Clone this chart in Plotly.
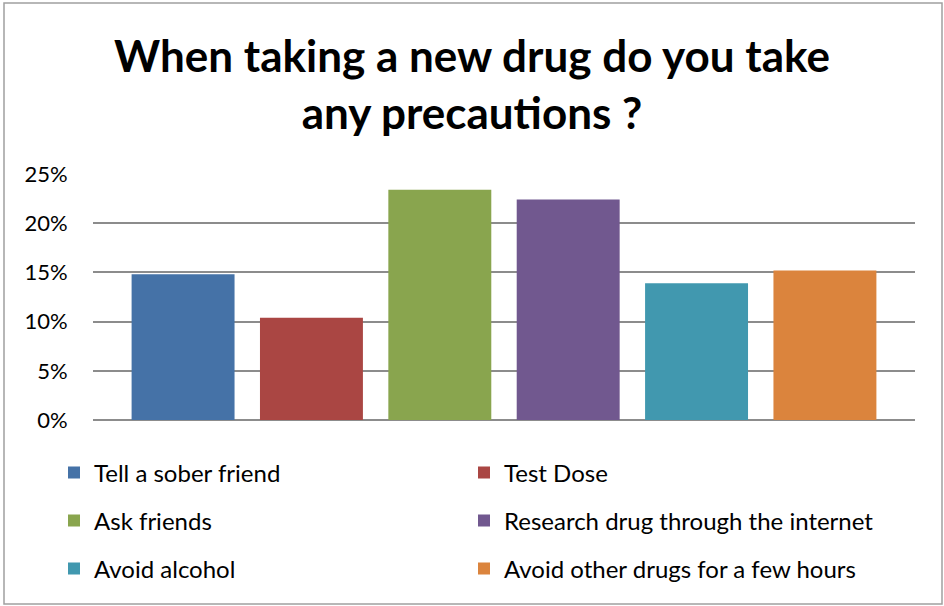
import plotly.graph_objects as go

title_lines = ["When taking a new drug do you take", "any precautions ?"]
series_names = ["Tell a sober friend", "Test Dose", "Ask friends",
                "Research drug through the internet", "Avoid alcohol",
                "Avoid other drugs for a few hours"]
series_values = [0.148, 0.104, 0.234, 0.224, 0.139, 0.152]
series_colors = ["#4572A7", "#AA4643", "#89A54E", "#71588F", "#4198AF", "#DB843D"]
y_ticks = [0, 0.05, 0.10, 0.15, 0.20, 0.25]
y_tick_labels = ["0%", "5%", "10%", "15%", "20%", "25%"]
category = ["Precautions"]

W, H = 944, 606
ML, MR, MT, MB = 93, 29, 174, 186
pw, ph = W - ML - MR, H - MT - MB

def px_x(x):
    return (x - ML) / pw

def px_y(y):
    return (H - MB - y) / ph

fig = go.Figure()
legend_ids = ["legend", "legend", "legend2", "legend2", "legend3", "legend3"]
for name, val, col, lg in zip(series_names, series_values, series_colors, legend_ids):
    fig.add_trace(go.Bar(x=category, y=[val], name=name, marker_color=col,
                         marker_line_width=0, legend=lg))

font = "Lato, 'Open Sans', sans-serif"
leg_common = dict(orientation="h", xanchor="left", yanchor="middle",
                  entrywidth=365, entrywidthmode="pixels",
                  font=dict(family=font, size=24, color="#000000"),
                  bgcolor="rgba(0,0,0,0)", itemclick=False, itemdoubleclick=False)

fig.update_layout(
    width=W, height=H,
    margin=dict(l=ML, r=MR, t=MT, b=MB),
    paper_bgcolor="white", plot_bgcolor="white",
    barmode="group", bargap=0.063, bargroupgap=0.198,
    title=dict(text="<b>" + "<br>".join(title_lines) + "</b>",
               x=0.5, xanchor="center", y=1 - 72 / H, yanchor="middle",
               font=dict(family=font, size=44, color="#000000")),
    xaxis=dict(showticklabels=False, showgrid=False, zeroline=False, showline=False,
               ticks=""),
    yaxis=dict(range=[0, 0.25], tickvals=y_ticks, ticktext=y_tick_labels,
               showgrid=True, gridcolor="#8c8c8c", gridwidth=1.5,
               zeroline=True, zerolinecolor="#8c8c8c", zerolinewidth=1.5,
               showline=False, ticks="outside", ticklen=20, tickcolor="rgba(0,0,0,0)",
               tickfont=dict(family=font, size=22, color="#000000")),
    legend=dict(x=px_x(54), y=px_y(473), **leg_common),
    legend2=dict(x=px_x(54), y=px_y(521), **leg_common),
    legend3=dict(x=px_x(54), y=px_y(569), **leg_common),
    shapes=[dict(type="rect", xref="paper", yref="paper",
                 x0=px_x(4), x1=px_x(942), y0=px_y(604), y1=px_y(3),
                 line=dict(color="#a0a0a0", width=1.5), fillcolor="rgba(0,0,0,0)",
                 layer="below")],
    showlegend=True,
)

fig.write_html("out.html", config={"displayModeBar": False},
               post_script="document.body.style.margin='0';")
